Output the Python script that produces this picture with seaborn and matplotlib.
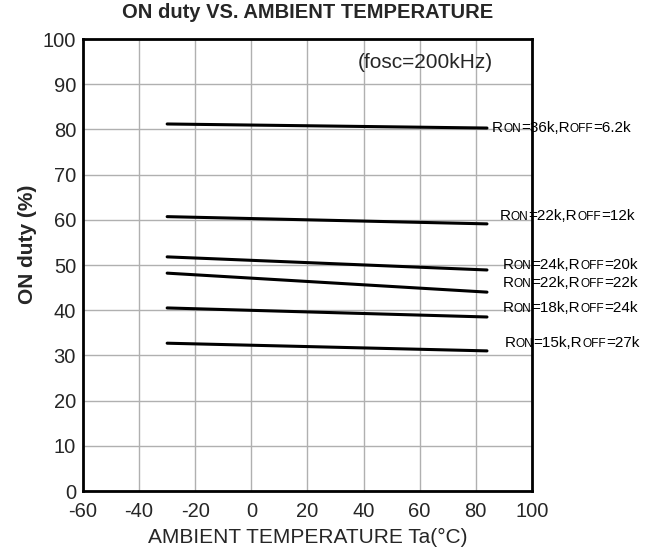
import pandas as pd
import matplotlib.pyplot as plt
import seaborn as sns
from matplotlib.offsetbox import TextArea, HPacker, AnnotationBbox

# Curve data (start/end of each straight line)
temps = [-30, 84]
duty_36k_6k2 = [81.2, 80.3]
duty_22k_12k = [60.7, 59.1]
duty_24k_20k = [51.8, 48.9]
duty_22k_22k = [48.2, 44.0]
duty_18k_24k = [40.5, 38.5]
duty_15k_27k = [32.7, 31.0]

# resistor values for the curve labels
ron = ["36k", "22k", "24k", "22k", "18k", "15k"]
roff = ["6.2k", "12k", "20k", "22k", "24k", "27k"]
series = [duty_36k_6k2, duty_22k_12k, duty_24k_20k,
          duty_22k_22k, duty_18k_24k, duty_15k_27k]
# where each label starts (temperature, duty)
label_pos = [(85.8, 80.4), (88.6, 60.8), (89.7, 50.0), (89.7, 46.0), (89.7, 40.5), (90.4, 32.8)]

xticks = [-60, -40, -20, 0, 20, 40, 60, 80, 100]
yticks = [0, 10, 20, 30, 40, 50, 60, 70, 80, 90, 100]

rows = []
for r1, r2, vals in zip(ron, roff, series):
    for t, v in zip(temps, vals):
        rows.append({"Ta": t, "duty": v, "cond": r1 + "/" + r2})
df = pd.DataFrame(rows)

sns.set_style("white")
plt.rcParams['font.family'] = ['Liberation Sans', 'DejaVu Sans']
plt.rcParams['axes.unicode_minus'] = False

fig = plt.figure(figsize=(6.65, 5.54), dpi=100)
ax = fig.add_axes([0.1248, 0.1137, 0.675, 0.8159])

sns.lineplot(data=df, x="Ta", y="duty", units="cond", estimator=None,
             color="black", linewidth=2.2, ax=ax, legend=False)

ax.set_xlim(-60, 100)
ax.set_ylim(0, 100)
ax.set_xticks(xticks)
ax.set_yticks(yticks)
ax.tick_params(axis='x', labelsize=14.5, length=0, pad=8)
ax.tick_params(axis='y', labelsize=14.5, length=0, pad=5)
ax.grid(True, color="#b0b0b0", linewidth=1.0)
for s in ax.spines.values():
    s.set_color("black")
    s.set_linewidth(2)

ax.set_title("ON duty VS. AMBIENT TEMPERATURE", fontsize=14.5, fontweight='bold', pad=15)
ax.set_xlabel("AMBIENT TEMPERATURE Ta(°C)", fontsize=15, labelpad=5)
ax.set_ylabel("ON duty (%)", fontsize=15, fontweight='bold')
ax.yaxis.set_label_coords(-0.103, 0.546)

ax.text(38, 94.8, "(fosc=200kHz)", fontsize=15, ha='left', va='center')


def small_caps(parts, x, y, big, small):
    # parts: list of (text, is_small)
    boxes = [TextArea(t, textprops=dict(fontsize=small if sm else big, color="black"))
             for t, sm in parts]
    pack = HPacker(children=boxes, align="baseline", pad=0, sep=0)
    ab = AnnotationBbox(pack, (x, y), xycoords='data', box_alignment=(0, 0.5),
                        frameon=False, annotation_clip=False, pad=0)
    ab.set_zorder(5)
    ax.add_artist(ab)


for r1, r2, (lx, ly) in zip(ron, roff, label_pos):
    small_caps([("R", False), ("ON", True), ("=" + r1 + ",R", False), ("OFF", True),
                ("=" + r2, False)], lx, ly, 11, 8.6)

plt.savefig("out.png", dpi=100)
